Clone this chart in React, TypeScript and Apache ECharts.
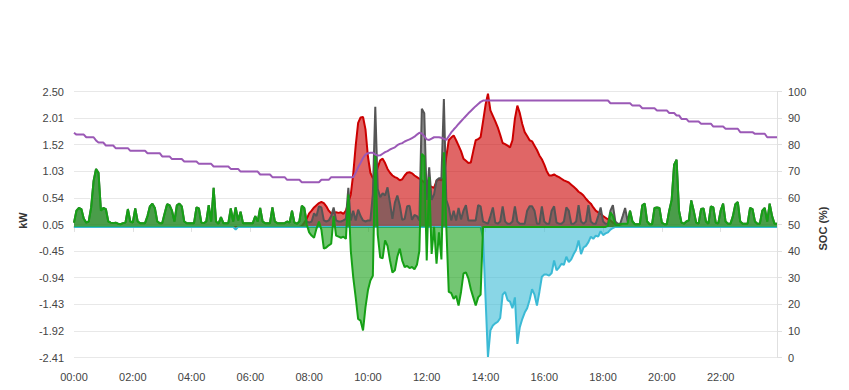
import { useEffect, useRef } from "react";
import * as echarts from "echarts";

// 5-minute categories 00:00 .. 23:55
const times: string[] = [];
for (let h = 0; h < 24; h++) {
  for (let m = 0; m < 60; m += 5) {
    times.push(String(h).padStart(2, "0") + ":" + String(m).padStart(2, "0"));
  }
}

// Grid power (kW), one row per hour
const gridKw = [
  0.08, 0.30, 0.35, 0.33, 0.15, 0.08, 0.10, 0.36, 0.85, 1.07, 1.00, 0.30,
  0.35, 0.33, 0.10, 0.08, 0.07, 0.08, 0.06, 0.05, 0.07, 0.08, 0.33, 0.10,
  0.08, 0.34, 0.10, 0.07, 0.07, 0.07, 0.20, 0.38, 0.43, 0.35, 0.10, 0.07,
  0.07, 0.25, 0.42, 0.40, 0.30, 0.10, 0.40, 0.43, 0.38, 0.10, 0.07, 0.07,
  0.07, 0.07, 0.36, 0.34, 0.08, 0.07, 0.10, 0.40, 0.10, 0.72, 0.10, 0.06,
  0.18, 0.07, 0.07, 0.07, 0.34, 0.10, 0.36, 0.12, 0.28, 0.07, 0.07, 0.07,
  0.07, 0.07, 0.20, 0.10, 0.35, 0.10, 0.07, 0.07, 0.07, 0.36, 0.10, 0.07,
  0.07, 0.07, 0.07, 0.10, 0.08, 0.30, 0.08, 0.06, 0.10, 0.39, 0.35, 0.05,
  -0.10, -0.16, -0.20, -0.03, 0.10, -0.05, -0.40, -0.38, -0.34, -0.31, 0.20, -0.16,
  -0.18, -0.20, -0.18, -0.22, 0.60, -0.44, -0.93, -1.30, -1.70, -1.73, -1.91, -1.48,
  -1.17, -0.99, -0.90, 1.35, -0.14, -0.56, -0.58, -0.25, -0.35, -0.62, -0.84, -0.80,
  -0.55, -0.40, -0.62, -0.74, -0.72, -0.76, -0.74, -0.78, -0.70, -0.44, 1.35, 1.30,
  -0.62, 0.92, -0.50, 0.00, -0.68, -0.10, -0.60, 1.38, 0.00, -1.20, -1.22, -1.33,
  -1.27, -1.45, -1.20, -0.86, -0.84, -0.95, -1.15, -1.30, -1.45, -1.30, -1.25, 0.00,
  0, 0, 0, 0, 0, 0, 0, 0, 0, 0, 0, 0,
  0, 0, 0, 0, 0, 0, 0, 0, 0, 0, 0, 0,
  0, 0, 0, 0, 0, 0, 0, 0, 0, 0, 0, 0,
  0, 0, 0, 0, 0, 0, 0, 0, 0, 0, 0, 0,
  0.00, 0.00, 0.02, 0.27, 0.20, 0.05, 0.04, 0.05, 0.06, 0.06, 0.06, 0.30,
  0.10, 0.05, 0.05, 0.05, 0.40, 0.43, 0.10, 0.05, 0.05, 0.35, 0.36, 0.35,
  0.08, 0.05, 0.05, 0.30, 0.50, 1.15, 1.24, 0.30, 0.08, 0.06, 0.10, 0.12,
  0.49, 0.30, 0.08, 0.06, 0.33, 0.34, 0.10, 0.06, 0.38, 0.36, 0.08, 0.06,
  0.30, 0.43, 0.10, 0.06, 0.06, 0.20, 0.42, 0.46, 0.10, 0.06, 0.06, 0.06,
  0.35, 0.33, 0.10, 0.06, 0.06, 0.30, 0.35, 0.10, 0.43, 0.20, 0.06, 0.06,
];

// Load (kW)
const loadKw = [
  0.08, 0.30, 0.35, 0.33, 0.15, 0.08, 0.10, 0.36, 0.85, 1.07, 1.00, 0.30,
  0.35, 0.33, 0.10, 0.08, 0.07, 0.08, 0.06, 0.05, 0.07, 0.08, 0.33, 0.10,
  0.08, 0.34, 0.10, 0.07, 0.07, 0.07, 0.20, 0.38, 0.43, 0.35, 0.10, 0.07,
  0.07, 0.25, 0.42, 0.40, 0.30, 0.10, 0.40, 0.43, 0.38, 0.10, 0.07, 0.07,
  0.07, 0.07, 0.36, 0.34, 0.08, 0.07, 0.10, 0.40, 0.10, 0.72, 0.10, 0.06,
  0.18, 0.07, 0.07, 0.07, 0.34, 0.10, 0.36, 0.12, 0.28, 0.07, 0.07, 0.07,
  0.07, 0.07, 0.20, 0.10, 0.35, 0.10, 0.07, 0.07, 0.07, 0.36, 0.10, 0.07,
  0.07, 0.07, 0.07, 0.10, 0.08, 0.30, 0.08, 0.06, 0.10, 0.39, 0.35, 0.10,
  0.08, 0.10, 0.25, 0.20, 0.38, 0.36, 0.12, 0.10, 0.12, 0.20, 0.36, 0.12,
  0.10, 0.10, 0.12, 0.15, 0.72, 0.12, 0.30, 0.12, 0.32, 0.20, 0.12, 0.10,
  0.12, 0.12, 0.60, 2.22, 0.70, 0.55, 0.62, 0.58, 0.73, 0.45, 0.15, 0.45,
  0.58, 0.40, 0.13, 0.15, 0.38, 0.39, 0.13, 0.22, 0.20, 0.12, 2.18, 2.10,
  0.50, 1.10, 0.50, 0.60, 0.86, 0.90, 0.90, 2.36, 0.50, 0.36, 0.12, 0.30,
  0.12, 0.35, 0.14, 0.30, 0.40, 0.12, 0.12, 0.12, 0.12, 0.40, 0.38, 0.10,
  0.08, 0.06, 0.20, 0.36, 0.08, 0.06, 0.10, 0.38, 0.10, 0.06, 0.06, 0.10,
  0.38, 0.10, 0.06, 0.06, 0.06, 0.30, 0.38, 0.38, 0.30, 0.06, 0.06, 0.38,
  0.10, 0.06, 0.06, 0.30, 0.38, 0.08, 0.06, 0.06, 0.10, 0.36, 0.30, 0.06,
  0.06, 0.10, 0.40, 0.10, 0.06, 0.10, 0.40, 0.10, 0.06, 0.06, 0.20, 0.36,
  0.10, 0.06, 0.06, 0.30, 0.40, 0.10, 0.06, 0.06, 0.20, 0.35, 0.10, 0.30,
  0.10, 0.05, 0.05, 0.05, 0.40, 0.43, 0.10, 0.05, 0.05, 0.35, 0.36, 0.35,
  0.08, 0.05, 0.05, 0.30, 0.50, 1.15, 1.24, 0.30, 0.08, 0.06, 0.10, 0.12,
  0.49, 0.30, 0.08, 0.06, 0.33, 0.34, 0.10, 0.06, 0.38, 0.36, 0.08, 0.06,
  0.30, 0.43, 0.10, 0.06, 0.06, 0.20, 0.42, 0.46, 0.10, 0.06, 0.06, 0.06,
  0.35, 0.33, 0.10, 0.06, 0.06, 0.30, 0.35, 0.10, 0.43, 0.20, 0.06, 0.06,
];

// Solar (kW)
const solarKw = [
  0, 0, 0, 0, 0, 0, 0, 0, 0, 0, 0, 0,
  0, 0, 0, 0, 0, 0, 0, 0, 0, 0, 0, 0,
  0, 0, 0, 0, 0, 0, 0, 0, 0, 0, 0, 0,
  0, 0, 0, 0, 0, 0, 0, 0, 0, 0, 0, 0,
  0, 0, 0, 0, 0, 0, 0, 0, 0, 0, 0, 0,
  0, 0, 0, 0, 0, 0, 0, 0, 0, 0, 0, 0,
  0, 0, 0, 0, 0, 0, 0, 0, 0, 0, 0, 0,
  0, 0, 0, 0, 0, 0, 0, 0, 0, 0.02, 0.08, 0.15,
  0.25, 0.30, 0.36, 0.40, 0.44, 0.46, 0.44, 0.38, 0.30, 0.25, 0.26, 0.27,
  0.26, 0.27, 0.24, 0.30, 0.45, 0.60, 0.98, 1.50, 1.92, 2.02, 2.03, 1.80,
  1.30, 1.00, 0.90, 0.92, 1.10, 1.23, 1.26, 1.18, 1.07, 1.00, 0.95, 0.92,
  0.90, 0.86, 0.88, 0.95, 1.00, 1.01, 0.99, 0.95, 0.92, 0.89, 0.86, 0.82,
  0.78, 0.76, 0.74, 0.72, 0.85, 0.88, 0.86, 0.90, 1.30, 1.60, 1.65, 1.69,
  1.60, 1.50, 1.40, 1.26, 1.22, 1.18, 1.19, 1.40, 1.60, 1.62, 1.66, 1.95,
  2.25, 2.46, 2.15, 2.05, 1.95, 1.84, 1.70, 1.55, 1.53, 1.50, 1.47, 1.60,
  2.00, 2.24, 2.10, 1.90, 1.75, 1.68, 1.60, 1.58, 1.50, 1.42, 1.32, 1.25,
  1.15, 1.03, 0.95, 0.95, 0.97, 0.94, 0.92, 0.89, 0.86, 0.84, 0.82, 0.78,
  0.74, 0.70, 0.65, 0.62, 0.58, 0.52, 0.47, 0.43, 0.36, 0.30, 0.27, 0.24,
  0.20, 0.17, 0.14, 0.12, 0.08, 0.05, 0.03, 0.01, 0, 0, 0, 0,
  0, 0, 0, 0, 0, 0, 0, 0, 0, 0, 0, 0,
  0, 0, 0, 0, 0, 0, 0, 0, 0, 0, 0, 0,
  0, 0, 0, 0, 0, 0, 0, 0, 0, 0, 0, 0,
  0, 0, 0, 0, 0, 0, 0, 0, 0, 0, 0, 0,
  0, 0, 0, 0, 0, 0, 0, 0, 0, 0, 0, 0,
];

// Battery (kW)
const batteryKw = [
  0, 0, 0, 0, 0, 0, 0, 0, 0, 0, 0, 0,
  0, 0, 0, 0, 0, 0, 0, 0, 0, 0, 0, 0,
  0, 0, 0, 0, 0, 0, 0, 0, 0, 0, 0, 0,
  0, 0, 0, 0, 0, 0, 0, 0, 0, 0, 0, 0,
  0, 0, 0, 0, 0, 0, 0, 0, 0, 0, 0, 0,
  0, 0, 0, 0, 0, 0, -0.05, 0, 0, 0, 0, 0,
  0, 0, 0, 0, 0, 0, 0, 0, 0, 0, 0, 0,
  0, 0, 0, 0, 0, 0, 0, 0, 0, 0, 0, 0,
  0, 0, 0, 0, 0, 0, 0, 0, 0, 0, 0, 0,
  0, 0, 0, 0, 0, 0, 0, 0, 0, 0, 0, 0,
  0, 0, 0, 0, 0, 0, 0, 0, 0, 0, 0, 0,
  0, 0, 0, 0, 0, 0, 0, 0, 0, 0, 0, 0,
  0, 0, 0, 0, 0, 0, 0, 0, 0, 0, 0, 0,
  0, 0, 0, 0, 0, 0, 0, 0, 0, 0, 0, -0.20,
  -1.30, -2.40, -1.91, -1.82, -1.78, -1.75, -1.68, -1.25, -1.20, -1.35, -1.38, -1.50,
  -1.30, -2.16, -1.85, -1.70, -1.58, -1.50, -1.35, -1.15, -1.25, -1.45, -1.20, -0.92,
  -0.88, -0.88, -0.90, -0.85, -0.62, -0.80, -0.75, -0.68, -0.70, -0.55, -0.65, -0.60,
  -0.50, -0.42, -0.25, -0.50, -0.38, -0.35, -0.28, -0.18, -0.22, -0.16, -0.18, -0.08,
  -0.15, -0.12, -0.10, -0.05, -0.02, 0, 0, 0, 0, 0, 0, 0,
  0, 0, 0, 0, 0, 0, 0, 0, 0, 0, 0, 0,
  0, 0, 0, 0, 0, 0, 0, 0, 0, 0, 0, 0,
  0, 0, 0, 0, 0, 0, 0, 0, 0, 0, 0, 0,
  0, 0, 0, 0, 0, 0, 0, 0, 0, 0, 0, 0,
  0, 0, 0, 0, 0, 0, 0, 0, 0, 0, 0, 0,
];

// State of charge (%)
const socPct = [
  84.5, 83.8, 83.8, 83.8, 83.8, 82.8, 82.8, 82.8, 82.8, 81.6, 80.8, 80.8,
  80.8, 79.7, 79.7, 79.7, 79.7, 78.7, 78.7, 78.7, 78.7, 78.7, 78.7, 77.7,
  77.7, 77.7, 77.7, 77.7, 77.7, 77.7, 76.8, 76.8, 76.8, 76.8, 76.8, 76.8,
  75.6, 75.6, 75.6, 75.6, 74.6, 74.6, 74.6, 74.6, 74.6, 73.7, 73.7, 73.7,
  73.7, 73.7, 73.7, 72.8, 72.8, 72.8, 72.8, 72.8, 72.8, 71.8, 71.8, 71.8,
  71.8, 71.8, 71.8, 71.8, 70.9, 70.9, 70.9, 70.9, 69.9, 69.9, 69.9, 69.9,
  69.9, 69.9, 69.9, 69.9, 68.8, 68.8, 68.8, 68.8, 68.8, 67.8, 67.8, 67.8,
  67.8, 67.8, 67.8, 66.8, 66.8, 66.8, 66.8, 66.8, 66.8, 65.9, 65.9, 65.9,
  65.9, 65.9, 65.9, 65.9, 65.9, 66.8, 66.8, 66.8, 66.8, 67.8, 67.8, 67.8,
  67.8, 67.8, 67.8, 67.8, 67.8, 67.8, 67.8, 69.5, 71.5, 73.2, 75.0, 76.3,
  76.8, 77.0, 77.0, 76.3, 75.9, 76.0, 76.6, 77.2, 77.6, 78.2, 78.6, 79.0,
  79.8, 80.3, 80.6, 81.2, 81.6, 82.0, 82.5, 83.0, 83.8, 84.5, 84.2, 83.2,
  82.0, 81.8, 82.3, 82.8, 82.8, 82.8, 82.6, 82.2, 81.8, 83.2, 84.6, 85.7,
  86.7, 87.8, 88.8, 89.8, 90.8, 91.8, 92.7, 93.6, 94.5, 95.3, 96.1, 96.6,
  96.6, 96.6, 96.6, 96.6, 96.6, 96.6, 96.6, 96.6, 96.6, 96.6, 96.6, 96.6,
  96.6, 96.6, 96.6, 96.6, 96.6, 96.6, 96.6, 96.6, 96.6, 96.6, 96.6, 96.6,
  96.6, 96.6, 96.6, 96.6, 96.6, 96.6, 96.6, 96.6, 96.6, 96.6, 96.6, 96.6,
  96.6, 96.6, 96.6, 96.6, 96.6, 96.6, 96.6, 96.6, 96.6, 96.6, 96.6, 96.6,
  96.6, 96.6, 96.6, 95.6, 95.6, 95.6, 95.6, 95.6, 95.6, 95.6, 95.6, 95.6,
  94.7, 94.7, 94.7, 94.7, 93.7, 93.7, 93.7, 93.7, 93.7, 93.7, 92.9, 92.9,
  92.9, 92.9, 92.9, 91.9, 91.9, 91.9, 91.0, 91.0, 89.7, 89.7, 89.7, 88.7,
  88.7, 88.7, 88.7, 88.7, 87.9, 87.9, 87.9, 87.9, 87.9, 86.8, 86.8, 86.8,
  86.8, 86.8, 86.0, 86.0, 86.0, 86.0, 86.0, 86.0, 84.7, 84.7, 84.7, 84.7,
  84.7, 84.7, 84.1, 84.1, 84.1, 84.1, 84.1, 82.8, 82.8, 82.8, 82.8, 82.8,
];

const FONT = "'Liberation Sans', Arial, Helvetica, sans-serif";

function areaSeries(name: string, data: number[], color: string, z: number) {
  return {
    name,
    type: "line",
    data,
    symbol: "none",
    z,
    lineStyle: { color, width: 2 },
    itemStyle: { color },
    areaStyle: { color, opacity: 0.6 },
  };
}

export default function App() {
  const ref = useRef<HTMLDivElement>(null);
  useEffect(() => {
    document.body.style.margin = "0";
    if (!ref.current) return;
    const chart = echarts.init(ref.current, undefined, { renderer: "svg" });
    chart.setOption({
      animation: false,
      textStyle: { fontFamily: FONT },
      grid: { left: 74, right: 72, top: 91.5, bottom: 32.5 },
      xAxis: {
        type: "category",
        data: times,
        boundaryGap: false,
        axisLine: { lineStyle: { color: "#e0e0e0", width: 2 } },
        axisTick: { interval: 23, length: 5, lineStyle: { color: "#e0e0e0" } },
        axisLabel: { interval: 23, color: "#444", fontSize: 11, margin: 14, fontFamily: FONT },
        splitLine: { show: false },
      },
      yAxis: [
        {
          type: "value",
          min: -2.41,
          max: 2.5,
          interval: 0.491,
          name: "kW",
          nameLocation: "middle",
          nameGap: 39,
          nameTextStyle: {
            fontWeight: "bold",
            fontSize: 11,
            color: "#333",
            fontFamily: FONT,
            padding: [0, 0, 0, 8],
          },
          axisLine: { show: false },
          axisTick: { show: false },
          axisLabel: {
            color: "#444",
            fontSize: 11,
            margin: 10,
            fontFamily: FONT,
            formatter: (v: number) => (v + 1e-9).toFixed(2),
          },
          splitLine: { lineStyle: { color: "#e8e8e8" } },
        },
        {
          type: "value",
          min: 0,
          max: 100,
          interval: 10,
          position: "right",
          name: "SOC (%)",
          nameLocation: "middle",
          nameGap: 35,
          nameTextStyle: {
            fontWeight: "bold",
            fontSize: 11,
            color: "#333",
            fontFamily: FONT,
            padding: [0, 8, 0, 0],
          },
          axisLine: { show: true, lineStyle: { color: "#e0e0e0" } },
          axisTick: { show: true, length: 5, lineStyle: { color: "#e0e0e0" } },
          axisLabel: { color: "#444", fontSize: 11, margin: 11, fontFamily: FONT },
          splitLine: { show: false },
        },
      ],
      series: [
        areaSeries("Solar", solarKw, "#cc0000", 1),
        areaSeries("Load", loadKw, "#555555", 2),
        areaSeries("Battery", batteryKw, "#3bbad5", 3),
        areaSeries("Grid", gridKw, "#16a016", 4),
        {
          name: "SOC",
          type: "line",
          yAxisIndex: 1,
          data: socPct,
          symbol: "none",
          z: 5,
          lineStyle: { color: "#9b59b6", width: 2 },
          itemStyle: { color: "#9b59b6" },
        },
      ],
    });
    return () => chart.dispose();
  }, []);
  return <div ref={ref} style={{ width: 849, height: 390 }} />;
}
